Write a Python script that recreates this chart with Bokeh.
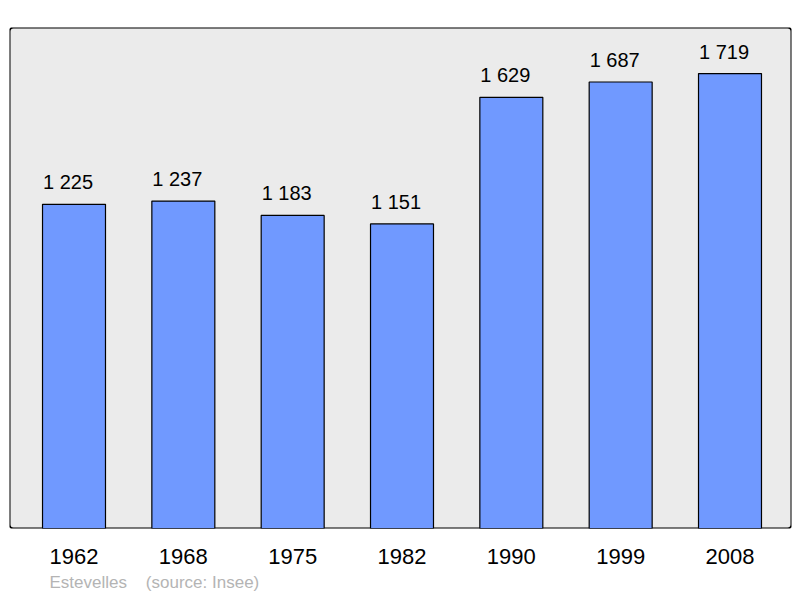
from bokeh.plotting import figure
from bokeh.models import ColumnDataSource, Range1d, FixedTicker, Title, BoxAnnotation
from bokeh.embed import file_html
from bokeh.resources import INLINE
from bokeh.core.properties import value

years = ["1962", "1968", "1975", "1982", "1990", "1999", "2008"]
population = [1225, 1237, 1183, 1151, 1629, 1687, 1719]
commune = "Estevelles"
source_note = "(source: Insee)"

idx = list(range(len(years)))
labels = [f"{v:,}".replace(",", " ") for v in population]
src = ColumnDataSource(dict(x=idx, top=population, label=labels))

p = figure(width=800, height=598, output_backend="svg", toolbar_location=None,
           x_range=Range1d(-0.59, 6.5625), y_range=Range1d(0, 1893),
           y_axis_location=None, min_border_left=9, min_border_right=9,
           min_border_top=27, min_border_bottom=70)
p.background_fill_color = "white"
p.border_fill_color = "white"
p.outline_line_color = None
p.grid.visible = False

frame = BoxAnnotation(fill_color="#ebebeb", fill_alpha=1.0, line_color="black",
                      line_width=2, line_alpha=1.0, border_radius=4, level="underlay")
p.add_layout(frame)

p.vbar(x="x", top="top", width=0.576, source=src, fill_color="#7099ff",
       line_color="black", line_width=1.2)
p.text(x="x", y="top", text="label", source=src, text_align="center",
       text_baseline="alphabetic", x_offset=-6, y_offset=-22,
       text_font=value("Liberation Sans"), text_font_size="20px", text_color="black")

ax = p.xaxis[0]
ax.ticker = FixedTicker(ticks=idx)
ax.major_label_overrides = {i: y for i, y in zip(idx, years)}
ax.axis_line_color = None
ax.major_tick_line_color = None
ax.minor_tick_line_color = None
ax.major_label_text_font = "Liberation Sans"
ax.major_label_text_font_size = "22px"
ax.major_label_text_color = "black"
ax.major_label_standoff = 14

footer = Title(text=commune + "\u00a0" * 4 + source_note, align="left", offset=40,
               text_font="Liberation Sans", text_font_size="17px",
               text_font_style="normal", text_color="#b4b4b4", standoff=9)
p.add_layout(footer, "below")

open("out.html", "w").write(file_html(p, INLINE))
